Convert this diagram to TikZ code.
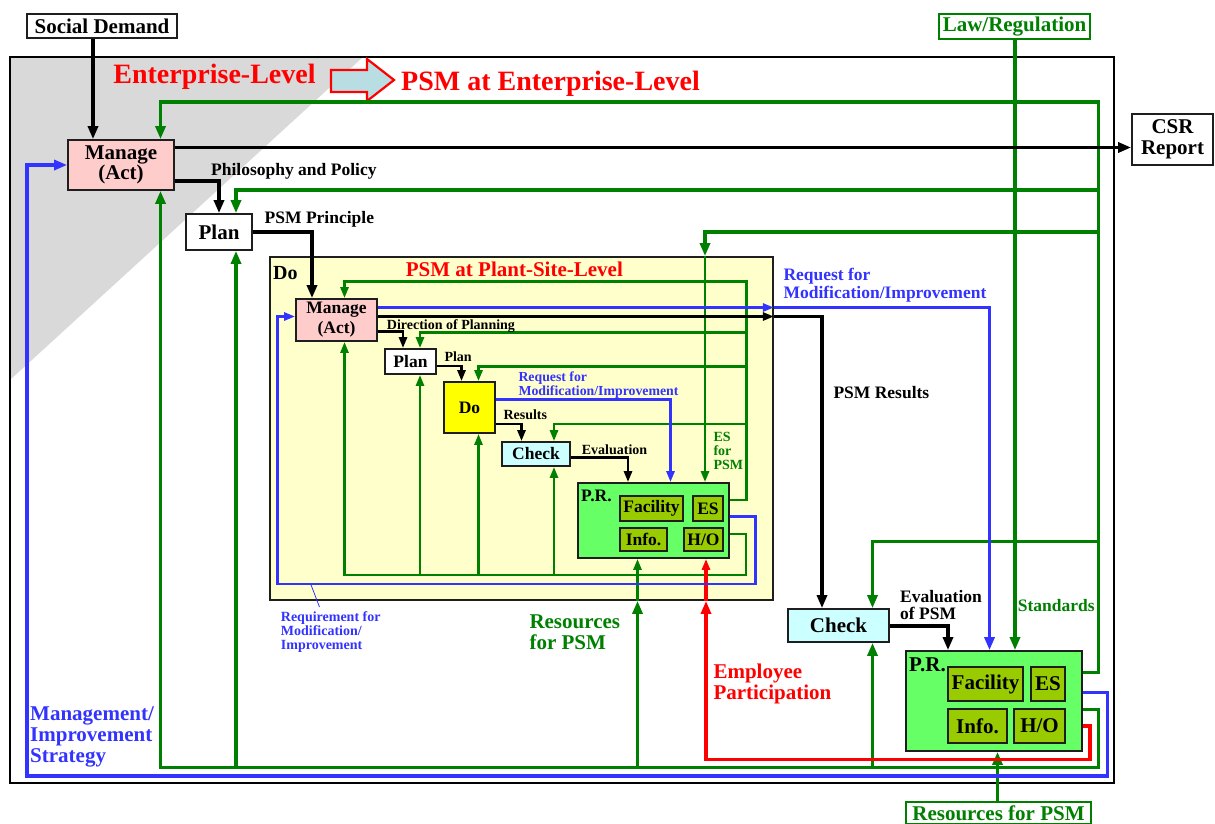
\documentclass[tikz,border=0pt]{standalone}
\usepackage{fontspec}
\setmainfont{Liberation Serif}
\usetikzlibrary{arrows.meta}
\definecolor{cred}{RGB}{255,0,0}
\definecolor{cgreen}{RGB}{0,128,0}
\definecolor{cblue}{RGB}{51,51,255}
\definecolor{cpink}{RGB}{255,204,204}
\definecolor{clyel}{RGB}{255,255,204}
\definecolor{cyel}{RGB}{255,255,0}
\definecolor{ccyan}{RGB}{204,255,255}
\definecolor{cprg}{RGB}{102,255,102}
\definecolor{colive}{RGB}{153,204,0}
\definecolor{cgray}{RGB}{217,217,217}
\definecolor{carrfill}{RGB}{184,222,228}
\definecolor{cborder}{RGB}{30,30,30}
\newcommand{\fs}[2]{\fontsize{#1}{#2}\selectfont\bfseries}
\newcommand{\vstack}[1]{\vtop{\halign{##\hfil\cr#1\crcr}}}
\begin{document}
\begin{tikzpicture}[x=1pt,y=-1pt,
  box/.style={draw=cborder, line width=1.8pt, inner sep=0pt, align=center},
  lbl/.style={inner sep=0pt, anchor=base west},
  oarr/.style={-{Triangle[length=13pt,width=10pt]}},
  iarr/.style={-{Triangle[length=11pt,width=8pt]}},
  lnB/.style={draw=black, line width=3.2pt},
  lnBi/.style={draw=black, line width=2.6pt},
  lnG/.style={draw=cgreen, line width=3.2pt},
  lnGi/.style={draw=cgreen, line width=2.6pt},
  lnU/.style={draw=cblue, line width=3.2pt},
  lnUi/.style={draw=cblue, line width=2.6pt},
  lnR/.style={draw=cred, line width=3.4pt},
  f21/.style={font=\fs{21}{21}},
  f17/.style={font=\fs{17.5}{18}},
  f14/.style={font=\fs{14}{14}}
]
\useasboundingbox (0,0) rectangle (1215,823);
% background shading and frame
\fill[cgray] (10,57) -- (363,57) -- (10,380) -- cycle;
\draw[line width=2.3pt] (10,57) rectangle (1114,783);
% block arrow
\draw[cred, line width=2.2pt, fill=carrfill] (331,70) -- (367,70) -- (367,59) -- (394,80) -- (367,101) -- (367,92) -- (331,92) -- cycle;

% titles
\node[inner sep=0pt, anchor=base, text=cred, font=\fs{28}{28}] (tEL) at (214.5,83) {Enterprise-Level};
\node[inner sep=0pt, anchor=base, text=cred, font=\fs{28}{28}] (tPEL) at (550.5,90) {PSM at Enterprise-Level};

% outer boxes
\node[box, fill=white, minimum width=150pt, minimum height=24pt, f21] (sd) at (102,26) {Social Demand};
\node[box, draw=cgreen, text=cgreen, fill=white, minimum width=151pt, minimum height=25pt, f21] (law) at (1014.5,26.5) {Law/Regulation};
\node[box, fill=white, minimum width=81pt, minimum height=51pt, font=\fs{21}{20.7}] (csr) at (1172.5,139.5) {CSR\\Report};
\node[box, draw=cgreen, text=cgreen, fill=white, minimum width=185pt, minimum height=22pt, f21] (res) at (998.5,813) {Resources for PSM};
\node[box, fill=cpink, minimum width=106pt, minimum height=50pt, font=\fs{21}{20.5}] (mg1) at (121,165) {Manage\\(Act)};
\node[box, fill=white, minimum width=66pt, minimum height=36pt, f21] (pl1) at (219,232) {Plan};

% plant-site level box
\node[box, fill=clyel, minimum width=503pt, minimum height=343pt] (dobox) at (521.5,428.5) {};
\node[lbl, font=\fs{20}{20}] (tDo) at (273,279) {Do};
\node[lbl, text=cred, f21] (tPlant) at (405.7,276.7) {PSM at Plant-Site-Level};

% inner boxes
\node[box, fill=cpink, minimum width=81pt, minimum height=42pt, font=\fs{17.5}{20}] (mg2) at (336.5,320) {Manage\\(Act)};
\node[box, fill=white, minimum width=51pt, minimum height=25pt, f17] (pl2) at (410.5,361.5) {Plan};
\node[box, fill=cyel, minimum width=51pt, minimum height=51pt, f17] (do2) at (469.5,407.5) {Do};
\node[box, fill=ccyan, minimum width=68pt, minimum height=24pt, f17] (ck2) at (536,454) {Check};
\node[box, fill=cprg, minimum width=151pt, minimum height=75pt] (pr2) at (653.5,520.5) {};
\node[lbl, f17] (tPR2) at (581,501.7) {P.R.};
\node[box, fill=colive, minimum width=63pt, minimum height=25pt, f17] (fac2) at (651.5,508.5) {Facility};
\node[box, fill=colive, minimum width=30pt, minimum height=25pt, f17] (es2) at (708,508.5) {ES};
\node[box, fill=colive, minimum width=47pt, minimum height=23pt, f17] (inf2) at (643.5,539.5) {Info.};
\node[box, fill=colive, minimum width=39pt, minimum height=23pt, f17] (ho2) at (703.5,539.5) {H/O};

% outer check and P.R.
\node[box, fill=ccyan, minimum width=101pt, minimum height=33pt, f21] (ck1) at (838.5,625.5) {Check};
\node[box, fill=cprg, minimum width=176pt, minimum height=100pt] (pr1) at (994,701) {};
\node[lbl, f21] (tPR1) at (909,671.7) {P.R.};
\node[box, fill=colive, minimum width=75pt, minimum height=34pt, f21] (fac1) at (985.5,684) {Facility};
\node[box, fill=colive, minimum width=34pt, minimum height=34pt, f21] (es1) at (1048,684) {ES};
\node[box, fill=colive, minimum width=59pt, minimum height=34pt, f21] (inf1) at (977.5,726) {Info.};
\node[box, fill=colive, minimum width=51pt, minimum height=34pt, f21] (ho1) at (1039.5,726) {H/O};

% ---------- green connectors (outer) ----------
\draw[lnG, oarr] (law.south -| 1015,0) -- (pr1.north -| 1015,0);
\draw[lnG, oarr] (pr1.east |- 0,672.5) -- (1098.5,672.5) -- (1098.5,102) -| (mg1.north -| 160.5,0);
\draw[lnG, oarr] (1098.5,190) -| (pl1.north -| 236,0);
\draw[lnG, oarr] (1098.5,232) -| (dobox.north -| 705,0);
\draw[lnGi, iarr] (dobox.north -| 705,0) -- (pr2.north -| 705,0);
\draw[lnG, oarr] (1098.5,541.5) -| (ck1.north -| 872.5,0);
\draw[lnG, oarr] (pr1.east |- 0,709.5) -- (1098.5,709.5) -- (1098.5,767.5) -| (mg1.south -| 160.5,0);
\draw[lnG, oarr] (236,767.5) -- (pl1.south -| 236,0);
\draw[lnG, oarr] (637.5,767.5) -- (dobox.south -| 637.5,0);
\draw[lnGi, iarr] (dobox.south -| 637.5,0) -- (pr2.south -| 637.5,0);
\draw[lnG, oarr] (872.5,767.5) -- (ck1.south -| 872.5,0);
\draw[lnG, oarr] (res.north -| 997.5,0) -- (pr1.south -| 997.5,0);

% ---------- green connectors (inner) ----------
\draw[lnGi, iarr] (pr2.east |- 0,500) -- (746.5,500) -- (746.5,281.5) -| (mg2.north -| 344.5,0);
\draw[lnGi, iarr] (746.5,332.5) -| (pl2.north -| 420,0);
\draw[lnGi, iarr] (746.5,366.5) -| (do2.north -| 478.5,0);
\draw[lnGi, iarr] (746.5,424) -| (ck2.north -| 554,0);
\draw[lnGi, iarr] (pr2.east |- 0,534) -- (746,534) -- (746,575) -| (mg2.south -| 344.5,0);
\draw[lnGi, iarr] (420,575) -- (pl2.south -| 420,0);
\draw[lnGi, iarr] (478.5,575) -- (do2.south -| 478.5,0);
\draw[lnGi, iarr] (554,575) -- (ck2.south -| 554,0);

% ---------- red connector ----------
\draw[lnR, oarr] (pr1.east |- 0,726) -- (1090,726) -- (1090,759.5) -- (706,759.5) -- (dobox.south -| 706,0);
\draw[lnR, iarr] (dobox.south -| 706,0) -- (pr2.south -| 706,0);

% ---------- blue connectors ----------
\draw[lnU, oarr] (pr1.east |- 0,692.5) -- (1107.5,692.5) -- (1107.5,776) -- (27,776) -- (27,165) -- (mg1.west);
\draw[lnUi, iarr] (mg2.east |- 0,307.5) -- (dobox.east |- 0,307.5);
\draw[lnU, oarr] (dobox.east |- 0,307.5) -| (pr1.north -| 989.5,0);
\draw[lnUi, iarr] (do2.east |- 0,399.5) -| (pr2.north -| 670.5,0);
\draw[lnUi, iarr] (pr2.east |- 0,516.5) -- (755.5,516.5) -- (755.5,584) -- (277.5,584) -- (277.5,316.5) -- (mg2.west |- 0,316.5);
\coordinate (leadA) at (310.7,584);
\coordinate (leadB) at (319.5,607);
\draw[cblue, line width=0.8pt] (leadA) -- (leadB);

% ---------- black connectors ----------
\draw[lnB, oarr] (sd.south -| 93,0) -- (mg1.north -| 93,0);
\draw[lnB, oarr] (mg1.east |- 0,147.5) -- (csr.west |- 0,147.5);
\draw[lnB, oarr] (mg1.east |- 0,181) -| (pl1.north);
\draw[lnB, oarr] (pl1.east) -| (mg2.north -| 312,0);
\draw[lnBi, iarr] (mg2.east |- 0,331.5) -| (pl2.north -| 403,0);
\draw[lnBi, iarr] (mg2.east |- 0,316.5) -- (dobox.east |- 0,316.5);
\draw[lnB, oarr] (dobox.east |- 0,316.5) -| (ck1.north -| 822,0);
\draw[lnBi, iarr] (pl2.east |- 0,366) -| (do2.north -| 461.5,0);
\draw[lnBi, iarr] (do2.east |- 0,424) -| (ck2.north -| 521.5,0);
\draw[lnBi, iarr] (ck2.east |- 0,457.5) -| (pr2.north -| 628,0);
\draw[lnB, oarr] (ck1.east |- 0,626) -| (pr1.north -| 948,0);

% ---------- labels ----------
\node[lbl, font=\fs{17.5}{18}] (tPhil) at (211,175) {Philosophy and Policy};
\node[lbl, font=\fs{17.5}{18}] (tPrin) at (264.5,223.3) {PSM Principle};
\node[lbl, f14] (tDir) at (386.7,329) {Direction of Planning};
\node[lbl, f14] (tPlanL) at (444.3,361.5) {Plan};
\node[lbl, f14] (tRes) at (503.3,419.3) {Results};
\node[lbl, f14] (tEval) at (581.7,454) {Evaluation};
\node[lbl, text=cblue, font=\fs{13.8}{14}] (tReqI) at (518.3,381.7) {\vstack{Request for\cr Modification/Improvement}};
\node[lbl, text=cgreen, font=\fs{14}{14}] (tESP) at (713.3,441.7) {\vstack{ES\cr for\cr PSM}};
\node[lbl, text=cblue, font=\fs{17.5}{17.6}] (tReqO) at (783.3,280.7) {\vstack{Request for\cr Modification/Improvement}};
\node[lbl, font=\fs{17.5}{18}] (tPSMR) at (833.3,398.3) {PSM Results};
\node[lbl, font=\fs{17.5}{16.7}] (tEvalO) at (900,602.3) {\vstack{Evaluation\cr of PSM}};
\node[lbl, text=cgreen, font=\fs{17.5}{18}] (tStd) at (1017.7,611.7) {Standards};
\node[lbl, text=cgreen, font=\fs{21}{21}] (tResM) at (529.3,628.3) {\vstack{Resources\cr for PSM}};
\node[lbl, text=cred, font=\fs{21}{21}] (tEmp) at (713.3,678.3) {\vstack{Employee\cr Participation}};
\node[lbl, text=cblue, font=\fs{21}{21}] (tMgmt) at (30,720) {\vstack{Management/\cr Improvement\cr Strategy}};
\node[lbl, text=cblue, font=\fs{14}{14}] (tReqR) at (280.7,621.7) {\vstack{Requirement for\cr Modification/\cr Improvement}};
\end{tikzpicture}
\end{document}
